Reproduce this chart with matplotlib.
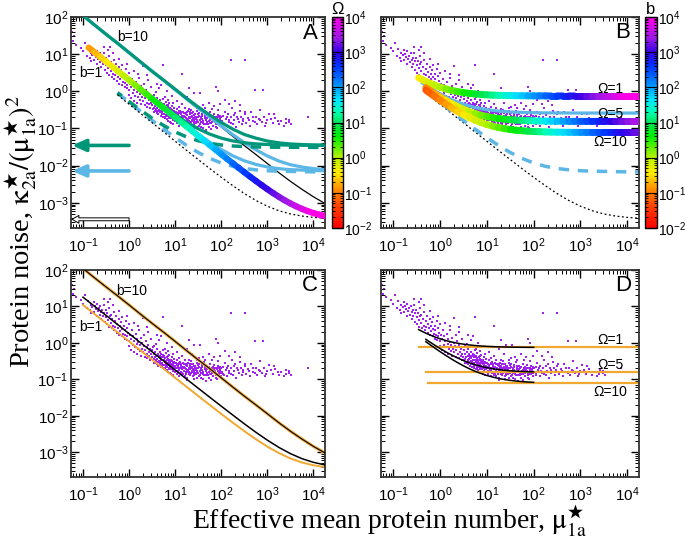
import numpy as np
import matplotlib
matplotlib.use("Agg")
import matplotlib.pyplot as plt
from matplotlib.colors import LinearSegmentedColormap, LogNorm
from matplotlib.collections import LineCollection
from matplotlib.cm import ScalarMappable
from matplotlib.ticker import LogLocator, NullFormatter

plt.rcParams['font.family'] = ['Liberation Sans', 'DejaVu Sans']
plt.rcParams['mathtext.fontset'] = 'custom'
plt.rcParams['mathtext.rm'] = 'Liberation Sans'
plt.rcParams['mathtext.it'] = 'Liberation Sans:italic'
plt.rcParams['mathtext.bf'] = 'Liberation Sans:bold'

TEAL = '#00967a'
SKY = '#5cb6e6'
ORANGE = '#f0a830'
PURPLE = '#a020f0'

# ---- data ----
# quarter-decade grid of effective mean protein number
mu_q = [0.1, 0.178, 0.316, 0.562, 1.0, 1.78, 3.16, 5.62, 10, 17.8, 31.6, 56.2,
        100, 178, 316, 562, 1000, 1780, 3160, 5620, 1e4, 1.78e4]
noise_b10 = [110, 61.1, 34.4, 19.6, 11.0, 6.11, 3.44, 1.96, 1.10, 0.611, 0.344, 0.197,
             0.110, 0.0615, 0.0347, 0.0200, 0.0114, 0.00646, 0.00379, 0.00231, 0.00145, 0.00096]
noise_b10_teal = [110, 61.1, 34.4, 19.7, 11.0, 6.15, 3.47, 2.0, 1.14, 0.646, 0.379, 0.231,
                  0.145, 0.096, 0.069, 0.055, 0.046, 0.0411, 0.0384, 0.037, 0.0361, 0.0356]
noise_b10_sky = [110, 61.1, 34.4, 19.6, 11.0, 6.12, 3.44, 1.97, 1.107, 0.618, 0.351, 0.204,
                 0.117, 0.0683, 0.0416, 0.0268, 0.0182, 0.0133, 0.0106, 0.0092, 0.0083, 0.0078]
# b=1 curves with extrinsic noise, from mu = 5.62
noise_b1_teal = [0.391, 0.235, 0.147, 0.0983, 0.0706, 0.055, 0.0462, 0.0413, 0.0386,
                 0.037, 0.0361, 0.0356, 0.0354, 0.0352, 0.0351]
noise_b1_sky = [0.363, 0.207, 0.120, 0.0705, 0.0428, 0.0272, 0.0184, 0.0135, 0.0108,
                0.0092, 0.0083, 0.0078, 0.0076, 0.0074, 0.0073]
# dashed / dotted curves, from mu = 0.562
noise_dash_teal = [0.92, 0.531, 0.312, 0.189, 0.120, 0.081, 0.059, 0.0468, 0.0399, 0.036,
                   0.0338, 0.0326, 0.0319, 0.0315, 0.0313, 0.0312, 0.0311, 0.031, 0.031]
noise_dash_sky = [0.90, 0.507, 0.288, 0.165, 0.0958, 0.0568, 0.0349, 0.0226, 0.0157, 0.0118,
                  0.0096, 0.0084, 0.0077, 0.0073, 0.0071, 0.0070, 0.0069, 0.0068, 0.0068]
noise_dot = [0.804, 0.450, 0.253, 0.143, 0.0804, 0.0454, 0.0256, 0.0146, 0.00837, 0.00486,
             0.00289, 0.00178, 0.00116, 0.00081, 0.000613, 0.000502, 0.00044, 0.000405, 0.000385]
# panel C
noise_c_b1_black = [18, 10.1, 5.70, 3.20, 1.80, 1.01, 0.570, 0.321, 0.180, 0.101, 0.0573, 0.0324,
                    0.0184, 0.0105, 0.00605, 0.00355, 0.00215, 0.00136, 0.00092, 0.00067, 0.00053, 0.00045]
noise_c_b1_orange = [11, 6.18, 3.48, 1.96, 1.10, 0.618, 0.348, 0.196, 0.110, 0.0621, 0.0351, 0.0199,
                     0.0113, 0.00651, 0.00381, 0.00229, 0.00143, 0.00095, 0.000678, 0.000526, 0.00044, 0.000392]

# eighth-decade grid for the colour-coded curves
mu_e = [0.133, 0.178, 0.237, 0.316, 0.422, 0.562, 0.75, 1.0, 1.33, 1.78, 2.37, 3.16, 4.22, 5.62,
        7.5, 10, 13.3, 17.8, 23.7, 31.6, 42.2, 56.2, 75, 100, 133, 178, 237, 316, 422, 562,
        750, 1000, 1330, 1780, 2370, 3160, 4220, 5620, 7500, 1e4, 1.33e4, 1.78e4]
noise_rainbow_a = [15.0, 11.2, 8.44, 6.33, 4.74, 3.56, 2.67, 2.0, 1.50, 1.12, 0.844, 0.633, 0.474,
                   0.356, 0.267, 0.200, 0.150, 0.113, 0.0847, 0.0636, 0.0477, 0.0359, 0.0270,
                   0.0203, 0.0153, 0.0116, 0.00877, 0.00666, 0.00507, 0.00389, 0.00300, 0.00233,
                   0.00183, 0.00145, 0.00117, 0.000963, 0.000804, 0.000686, 0.000597, 0.000530,
                   0.000480, 0.000442]
omega_rainbow_a = mu_e  # colour = Omega along the b=1 curve

mu_om1 = [0.35] + mu_e[4:]
noise_om1 = [2.32, 2.05, 1.73, 1.48, 1.30, 1.16, 1.06, 0.982, 0.924, 0.880, 0.848, 0.823, 0.805,
             0.791, 0.781, 0.773, 0.767, 0.763, 0.760, 0.757, 0.755, 0.754, 0.753, 0.752, 0.752,
             0.751, 0.751, 0.75, 0.75, 0.75, 0.75, 0.75, 0.75, 0.75, 0.75, 0.75, 0.75, 0.75, 0.75]
mu_om5 = [0.5] + mu_e[5:]
noise_om5 = [1.255, 1.13, 0.888, 0.705, 0.568, 0.464, 0.387, 0.329, 0.285, 0.253, 0.228, 0.210,
             0.196, 0.186, 0.178, 0.172, 0.168, 0.165, 0.162, 0.1605, 0.159, 0.158, 0.157, 0.1567,
             0.1563, 0.156, 0.1557, 0.1555, 0.1554, 0.1553, 0.1552, 0.1552, 0.1551, 0.1551,
             0.155, 0.155, 0.155, 0.155]
mu_om10 = mu_om5
noise_om10 = [1.078, 0.968, 0.745, 0.578, 0.454, 0.359, 0.289, 0.236, 0.196, 0.167, 0.145, 0.128,
              0.116, 0.106, 0.099, 0.0938, 0.0898, 0.0869, 0.0847, 0.083, 0.0818, 0.0808, 0.0801,
              0.0796, 0.0792, 0.0789, 0.0787, 0.0785, 0.0784, 0.0783, 0.0782, 0.0782, 0.0781,
              0.0781, 0.078, 0.078, 0.078, 0.078]
omegas = [1, 5, 10]
omega_levels = [0.75, 0.155, 0.078]
omega_starts = [0.35, 0.5, 0.55]

mu_sky_b = [0.422, 0.562, 0.75, 1.0, 1.78, 3.16, 5.62, 10, 17.8, 31.6, 56.2, 100, 178, 316, 1000, 1.78e4]
noise_sky_b = [1.68, 1.33, 1.06, 0.86, 0.597, 0.45, 0.367, 0.32, 0.294, 0.279, 0.271, 0.266,
               0.263, 0.262, 0.2606, 0.26]

arrow_levels = [0.035, 0.0072, 0.00036]

observed = [
    (0.058, 40), (0.06, 22), (0.065, 30), (0.07, 18), (0.09, 15), (0.1, 12), (0.11, 20), (0.12, 9),
    (0.13, 14), (0.14, 8), (0.15, 11), (0.15, 6.5), (0.16, 9.5), (0.17, 13), (0.17, 7), (0.18, 10),
    (0.19, 8.5), (0.2, 5.5), (0.2, 12), (0.21, 7.5), (0.22, 9), (0.23, 6), (0.24, 10.5), (0.25, 4.5),
    (0.25, 7), (0.26, 8), (0.27, 5.5), (0.28, 11), (0.29, 6.5), (0.3, 3.8), (0.28, 16), (0.35, 13),
    (0.39, 16), (0.45, 11), (0.6, 7.5), (0.9, 5.5),
    (0.31, 8), (0.32, 5), (0.33, 3.2), (0.34, 6.5), (0.35, 4.2), (0.36, 2.8), (0.37, 9), (0.38, 5.5),
    (0.4, 3.5), (0.4, 6), (0.42, 2.5), (0.43, 4.5), (0.45, 3), (0.46, 7), (0.48, 2.2), (0.5, 4),
    (0.5, 2.8), (0.52, 5.5), (0.55, 1.9), (0.56, 3.3), (0.58, 2.5), (0.6, 4.5), (0.62, 1.6),
    (0.63, 2.9), (0.65, 2.1), (0.67, 3.8), (0.7, 1.5), (0.7, 2.4), (0.72, 5), (0.75, 1.8),
    (0.77, 3), (0.8, 1.3), (0.8, 2.2), (0.83, 1.7), (0.85, 4), (0.88, 1.2), (0.9, 2.6),
    (0.92, 1.5), (0.95, 1.9), (0.98, 3.2),
    (1.0, 1.1), (1.02, 0.8), (1.05, 1.6), (1.1, 1.3), (1.1, 0.65), (1.15, 2.2), (1.2, 0.9),
    (1.2, 1.5), (1.25, 0.55), (1.3, 1.1), (1.3, 3.5), (1.35, 0.75), (1.4, 1.8), (1.45, 0.95),
    (1.5, 0.5), (1.5, 1.3), (1.55, 0.7), (1.6, 1.05), (1.6, 3.0), (1.65, 2.3), (1.7, 0.6),
    (1.75, 0.85), (1.8, 1.4), (1.85, 0.45), (1.9, 0.7), (1.95, 1.0), (2.0, 0.55), (2.0, 4.8),
    (2.1, 0.8), (2.15, 1.6), (2.2, 0.42), (2.25, 0.65), (2.3, 1.1), (2.4, 0.5), (2.45, 0.75),
    (2.5, 0.38), (2.5, 2.8), (2.55, 0.9), (2.6, 2.0), (2.7, 0.58), (2.75, 0.45), (2.8, 0.7),
    (2.9, 0.35), (2.95, 1.3), (3.0, 0.5),
    (3.1, 0.42), (3.2, 0.62), (3.3, 0.33), (3.3, 0.75), (3.4, 0.5), (3.5, 0.28), (3.5, 0.8),
    (3.6, 0.4), (3.7, 0.55), (3.8, 0.3), (3.8, 0.95), (3.9, 0.45), (4.0, 0.26), (4.0, 0.68),
    (4.0, 1.6), (4.1, 0.36), (4.2, 0.5), (4.2, 0.3), (4.3, 0.24), (4.4, 0.4), (4.5, 0.31),
    (4.5, 1.2), (4.6, 0.58), (4.6, 0.38), (4.7, 0.27), (4.8, 0.43), (4.9, 0.22), (5.0, 0.35),
    (5.0, 0.5), (5.0, 1.5), (5.1, 0.26), (5.2, 0.29), (5.3, 0.4), (5.4, 0.21), (5.4, 0.47),
    (5.5, 0.62), (5.5, 5.2), (5.6, 0.33), (5.7, 0.25), (5.8, 0.45), (5.8, 0.34), (5.9, 0.19),
    (6.0, 0.3), (6.0, 0.7), (6.1, 0.38), (6.1, 0.2), (6.2, 0.23), (6.3, 0.52), (6.4, 0.27),
    (6.5, 0.18), (6.5, 1.0), (6.6, 0.34), (6.6, 0.25), (6.7, 0.42), (6.8, 0.22), (6.9, 0.29),
    (7.0, 0.16), (7.0, 0.43), (7.0, 0.6), (7.1, 0.37), (7.2, 0.25), (7.3, 0.2), (7.3, 0.29),
    (7.4, 0.31), (7.5, 0.48), (7.6, 0.23), (7.7, 0.15), (7.8, 0.28), (7.8, 0.22), (7.9, 0.35),
    (8.0, 0.19), (8.1, 0.33), (8.2, 0.26), (8.3, 0.14), (8.4, 0.32), (8.5, 0.21), (8.5, 0.75),
    (8.6, 0.4), (8.7, 0.25), (8.8, 0.17), (8.9, 0.27), (9.0, 0.23), (9.0, 0.5), (9.1, 0.19),
    (9.2, 0.13), (9.3, 0.3), (9.5, 0.19), (9.6, 0.36), (9.7, 0.28), (9.8, 0.24), (9.9, 0.16),
    (10.2, 0.28), (10.4, 0.17), (10.5, 0.2), (10.8, 0.14), (11, 0.33), (11, 0.55), (11.1, 0.25),
    (11.3, 0.23), (11.6, 0.17), (11.9, 0.19), (12, 0.26), (12, 0.38), (12.3, 0.12), (12.6, 0.21),
    (12.8, 0.15), (13, 0.3), (13.3, 0.16), (13.5, 0.27), (13.7, 0.24), (14, 0.19), (14, 0.45),
    (14, 3.0), (14.2, 0.22), (14.4, 0.13), (14.8, 0.28), (15, 0.14), (15.2, 0.22), (15.6, 0.17),
    (16, 0.35), (16, 0.12), (16.2, 0.26), (16.5, 0.2), (17, 0.14), (17.2, 0.19), (17.5, 0.25),
    (18, 0.18), (18, 0.7), (18, 0.095), (18.3, 0.23), (18.5, 0.11), (19, 0.29), (19.5, 0.21),
    (19.8, 0.14), (20, 0.16), (20, 0.33), (20, 1.2), (20.5, 0.24), (21, 0.13), (21.2, 0.27),
    (21.5, 0.19), (22, 0.31), (22.4, 0.2), (22.7, 0.17), (23, 0.5), (23.4, 0.22), (23.9, 0.16),
    (24, 0.12), (24.8, 0.27), (25, 0.1), (25.1, 0.23), (25.5, 0.15), (26, 0.9), (26.3, 0.2),
    (26.8, 0.18), (27, 0.24), (27.8, 0.14), (28.1, 0.21), (28.6, 0.18), (29.4, 0.29), (30, 0.11),
    (30, 0.35), (30.5, 0.17),
    (31, 0.2), (32, 0.15), (32.5, 0.22), (33, 0.38), (33.5, 0.26), (34.5, 0.17), (35, 0.13),
    (35, 0.9), (36.5, 0.18), (37, 0.11), (37.5, 0.25), (38, 0.22), (39.5, 0.1), (40, 0.42),
    (40.5, 0.14), (41, 0.16), (42.5, 0.3), (43.5, 0.2), (44, 0.19), (45, 0.35), (46, 0.13),
    (47, 0.17), (47, 0.09), (48, 0.24), (50, 0.15), (51, 0.13), (52, 0.2), (54, 0.11), (55, 0.22),
    (55, 0.5), (56, 0.17), (58, 0.27), (59, 0.18), (60, 0.14), (60, 0.095), (62, 0.21), (63, 0.33),
    (64, 0.15), (65, 0.12), (68, 0.18), (69, 0.21), (70, 0.4), (71, 0.25), (74, 0.15), (75, 0.11),
    (75, 1.3), (76, 0.13), (77, 0.2), (80, 0.1), (82, 0.19), (83, 0.17), (85, 0.32), (85, 1.0),
    (86, 0.23), (88, 0.16), (90, 0.14), (94, 0.19), (95, 0.45), (96, 0.22), (98, 0.12),
    (3.4, 0.36), (3.6, 0.29), (3.9, 0.34), (4.3, 0.45), (4.8, 0.3), (5.3, 0.24), (5.6, 0.4),
    (6.2, 0.28), (6.8, 0.35), (7.2, 0.19), (7.6, 0.3), (8.3, 0.22), (8.8, 0.3), (9.4, 0.24),
    (10, 0.22), (10.7, 0.26), (11.5, 0.2), (12.2, 0.29), (13.1, 0.2), (13.9, 0.15), (14.6, 0.21),
    (15.4, 0.26), (16.8, 0.16), (17.8, 0.27), (19.2, 0.18), (20.8, 0.2), (22, 0.15), (23, 0.26),
    (24.5, 0.19), (26, 0.13), (27.5, 0.2), (29, 0.15), (31.5, 0.25), (33, 0.12), (36, 0.21),
    (39, 0.18), (42, 0.13), (45, 0.23), (49, 0.19), (53, 0.16), (57, 0.14), (61, 0.18), (66, 0.22),
    (72, 0.17), (79, 0.14), (84, 0.21), (92, 0.17), (99, 0.15), (6.4, 0.32), (9.3, 0.21),
    (12.4, 0.18), (18.7, 0.16), (25.8, 0.17), (35.5, 0.15), (48.5, 0.13), (67, 0.16),
    (100, 0.2), (105, 0.16), (110, 0.22), (110, 0.14), (115, 0.13), (120, 0.28), (120, 0.6),
    (125, 0.18), (130, 0.21), (135, 0.12), (140, 0.24), (145, 0.17), (150, 0.15), (150, 0.45),
    (160, 0.2), (160, 6.8), (165, 0.14), (170, 0.35), (180, 0.13), (185, 0.23), (190, 0.17),
    (200, 0.26), (200, 0.55), (210, 0.11), (220, 0.2), (230, 0.18), (240, 0.15), (250, 0.42),
    (260, 0.3), (270, 0.21), (280, 0.13), (290, 0.16), (300, 0.18), (320, 6.8), (320, 0.24),
    (330, 0.27), (350, 0.14), (380, 0.19), (400, 0.17), (420, 0.12), (450, 0.27), (480, 0.21),
    (500, 0.16), (530, 1.1), (550, 0.15), (560, 0.21), (600, 0.13), (650, 0.18), (700, 0.32),
    (700, 0.17), (750, 0.15), (800, 1.1), (850, 0.2), (900, 0.12), (950, 0.14), (1000, 0.17),
    (1100, 0.25), (1200, 0.18), (1300, 0.14), (1400, 0.24), (1500, 0.19), (1700, 0.16),
    (1800, 0.13), (2000, 0.16), (2300, 0.12), (2500, 0.14), (2600, 0.18), (3000, 0.15),
    (3000, 0.17), (3300, 0.13), (7500, 0.2),
]

# ---- colour map (red -> magenta) ----
cmap = LinearSegmentedColormap.from_list('rb', [
    (0.0, (1.0, 0.0, 0.0)), (0.10, (1.0, 0.25, 0.0)), (0.183, (1.0, 0.55, 0.0)),
    (0.258, (1.0, 0.92, 0.0)), (0.333, (0.72, 0.95, 0.0)), (0.433, (0.0, 0.93, 0.0)),
    (0.5, (0.0, 0.9, 0.35)), (0.55, (0.0, 1.0, 0.7)), (0.608, (0.0, 0.9, 1.0)),
    (0.683, (0.0, 0.55, 1.0)), (0.767, (0.0, 0.2, 1.0)), (0.833, (0.2, 0.0, 0.9)),
    (0.9, (0.6, 0.1, 0.9)), (1.0, (1.0, 0.0, 0.9))])
norm = LogNorm(1e-2, 1e4)

W, H = 685, 541
fig = plt.figure(figsize=(W / 100, H / 100), dpi=100)


def box(l, t, r, b):
    return [l / W, 1 - b / H, (r - l) / W, (b - t) / H]


ax_a = fig.add_axes(box(71, 17, 325, 228))
ax_b = fig.add_axes(box(381, 17, 639, 228))
ax_c = fig.add_axes(box(71, 270, 325, 477))
ax_d = fig.add_axes(box(381, 270, 639, 477))

obs = np.array(observed)


def style(ax, left_labels):
    ax.set_xscale('log')
    ax.set_yscale('log')
    ax.set_xlim(0.055, 1.78e4)
    ax.set_ylim(2.1e-4, 100)
    ax.set_xticks([1e-1, 1, 1e1, 1e2, 1e3, 1e4])
    ax.set_yticks([1e-3, 1e-2, 1e-1, 1, 1e1, 1e2])
    ax.xaxis.set_minor_locator(LogLocator(base=10, subs=np.arange(2, 10), numticks=20))
    ax.yaxis.set_minor_locator(LogLocator(base=10, subs=np.arange(2, 10), numticks=20))
    ax.xaxis.set_minor_formatter(NullFormatter())
    ax.yaxis.set_minor_formatter(NullFormatter())
    ax.tick_params(which='both', direction='in', top=True, right=True, labelsize=11)
    ax.tick_params(which='major', length=6, width=1)
    ax.tick_params(which='minor', length=3, width=0.7)
    ax.tick_params(axis='x', pad=6)
    ax.tick_params(axis='y', pad=2, labelleft=left_labels)
    for s in ax.spines.values():
        s.set_linewidth(1.3)
        s.set_color('#333333')
    ax.scatter(obs[:, 0], obs[:, 1], s=3.2, marker='s', color=PURPLE, lw=0, zorder=1)


def rainbow(ax, mu, noise, cval, lw=4.5):
    pts = np.column_stack([mu, noise])
    segs = np.stack([pts[:-1], pts[1:]], axis=1)
    c = np.asarray(cval, dtype=float)
    lc = LineCollection(segs, cmap=cmap, norm=norm, linewidths=lw, capstyle='round', zorder=4)
    lc.set_array(np.sqrt(c[:-1] * c[1:]))
    ax.add_collection(lc)


for ax, lab in [(ax_a, True), (ax_b, False), (ax_c, True), (ax_d, False)]:
    style(ax, lab)

# ---- panel A ----
ax_a.plot(mu_q, noise_b10, color='black', lw=0.9, zorder=2)
ax_a.plot(mu_q, noise_b10_sky, color=SKY, lw=2.3, zorder=2)
ax_a.plot(mu_q[7:], noise_b1_sky, color=SKY, lw=2.3, zorder=2)
ax_a.plot(mu_q[3:], noise_dash_sky, color=SKY, lw=2.5, ls=(0, (3, 2.5)), zorder=2)
ax_a.plot(mu_q[3:], noise_dash_teal, color=TEAL, lw=2.5, ls=(1.5, (3, 2.5)), zorder=2)
ax_a.plot(mu_q[3:], noise_dot, color='black', lw=0.9, ls=(0, (1.5, 2)), zorder=2)
ax_a.plot(mu_q, noise_b10_teal, color=TEAL, lw=2.3, zorder=3)
ax_a.plot(mu_q[7:], noise_b1_teal, color=TEAL, lw=2.3, zorder=3)
rainbow(ax_a, mu_e, noise_rainbow_a, omega_rainbow_a)
for lvl, col in zip(arrow_levels[:2], [TEAL, SKY]):
    ax_a.annotate('', xy=(0.058, lvl), xytext=(1.0, lvl),
                  arrowprops=dict(arrowstyle='-|>,head_length=0.9,head_width=0.4', color=col,
                                  lw=2.6, shrinkA=0, shrinkB=0, mutation_scale=9))
ax_a.annotate('', xy=(0.058, arrow_levels[2]), xytext=(1.0, arrow_levels[2]),
              arrowprops=dict(arrowstyle='simple,head_length=0.7,head_width=0.8,tail_width=0.3',
                              fc='white', ec='black', lw=0.7, shrinkA=0, shrinkB=0,
                              mutation_scale=7))
ax_a.text(0.242, 0.905, 'b=10', transform=ax_a.transAxes, fontsize=10, ha='center', va='center')
ax_a.text(0.079, 0.735, 'b=1', transform=ax_a.transAxes, fontsize=10, ha='center', va='center')

# ---- panel B ----
ax_b.plot(mu_q[3:], noise_dot, color='black', lw=0.9, ls=(0, (1.5, 2)), zorder=2)
ax_b.plot(mu_q[3:], noise_dash_sky, color=SKY, lw=2.5, ls=(0, (3, 2.5)), zorder=2)
ax_b.plot(mu_sky_b, noise_sky_b, color=SKY, lw=2.3, zorder=2)
for om, mu, nz in zip(omegas, [mu_om1, mu_om5, mu_om10], [noise_om1, noise_om5, noise_om10]):
    rainbow(ax_b, mu, nz, np.array(mu) / om, lw=5)
for ty, om in zip([0.661, 0.538, 0.408], omegas):
    ax_b.text(0.89, ty, 'Ω=%d' % om, transform=ax_b.transAxes, fontsize=10,
              ha='center', va='center', zorder=6)

# ---- panel C ----
ax_c.plot(mu_q, noise_b10, color=ORANGE, lw=2.2, zorder=2)
ax_c.plot(mu_q, noise_b10, color='black', lw=0.8, zorder=3)
ax_c.plot(mu_q, noise_c_b1_orange, color=ORANGE, lw=1.4, zorder=2)
ax_c.plot(mu_q, noise_c_b1_black, color='black', lw=1.1, zorder=3)
ax_c.text(0.240, 0.900, 'b=10', transform=ax_c.transAxes, fontsize=10, ha='center', va='center')
ax_c.text(0.079, 0.725, 'b=1', transform=ax_c.transAxes, fontsize=10, ha='center', va='center')

# ---- panel D ----
for st, lvl in zip(omega_starts, omega_levels):
    ax_d.plot([st, mu_q[-1]], [lvl, lvl], color=ORANGE, lw=1.6, zorder=2)
for mu, nz in zip([mu_om1, mu_om5, mu_om10], [noise_om1, noise_om5, noise_om10]):
    m = np.array(mu)
    keep = m <= 100
    ax_d.plot(m[keep], np.array(nz)[keep], color='black', lw=1.1, zorder=3)
for ty, om in zip([0.662, 0.541, 0.411], omegas):
    ax_d.text(0.89, ty, 'Ω=%d' % om, transform=ax_d.transAxes, fontsize=10,
              ha='center', va='center', zorder=6)

for ax, letter, (lx, ly) in [(ax_a, 'A', (0.941, 0.924)), (ax_b, 'B', (0.938, 0.926)),
                             (ax_c, 'C', (0.939, 0.925)), (ax_d, 'D', (0.938, 0.927))]:
    ax.text(lx, ly, letter, transform=ax.transAxes, fontsize=16, ha='center', va='center', zorder=7)

# ---- colour bars ----
for (l, r), title in [((332, 343), 'Ω'), ((645, 657), 'b')]:
    cax = fig.add_axes(box(l, 17, r, 228))
    cb = fig.colorbar(ScalarMappable(norm=norm, cmap=cmap), cax=cax)
    cb.set_ticks([1e-2, 1e-1, 1, 1e1, 1e2, 1e3, 1e4])
    cax.yaxis.set_minor_locator(LogLocator(base=10, subs=np.arange(2, 10), numticks=20))
    cax.yaxis.set_minor_formatter(NullFormatter())
    cax.tick_params(which='both', direction='in', left=True, right=True, labelsize=10, pad=0.5)
    cax.tick_params(which='major', length=4, width=0.8)
    cax.tick_params(which='minor', length=2, width=0.6)
    cb.outline.set_linewidth(1.0)
    cax.set_title(title, fontsize=12, pad=1)

# ---- axis labels ----
fig.text(192 / W, 1 - 530 / H, r'Effective mean protein number, $\mathrm{\mu}^{\bigstar}_{\mathrm{1a}}$',
         fontsize=20, family='Liberation Serif', math_fontfamily='stix', ha='left', va='baseline')
fig.text(0.030, 1 - 368 / H,
         r'Protein noise, $\mathrm{\kappa}^{\bigstar}_{\mathrm{2a}}/(\mathrm{\mu}^{\bigstar}_{\mathrm{1a}})^{2}$',
         fontsize=20.5, family='Liberation Serif', math_fontfamily='stix', rotation=90,
         ha='center', va='bottom')

fig.savefig('out.png', dpi=100)
